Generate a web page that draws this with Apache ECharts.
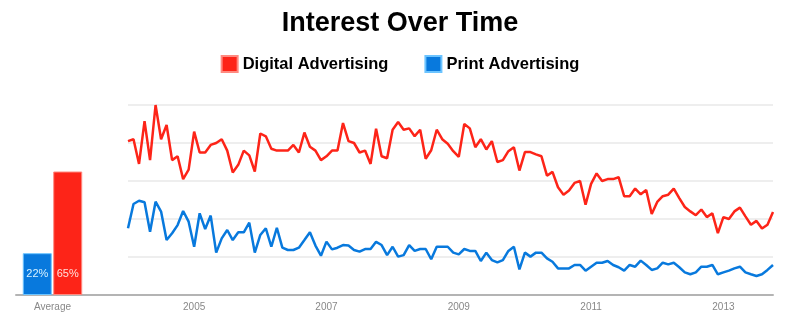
<!DOCTYPE html>
<html>
<head>
<meta charset="utf-8">
<script src="https://cdn.jsdelivr.net/npm/echarts@6/dist/echarts.min.js"></script>
<style>
html,body{margin:0;padding:0;background:#fff;}
#chart{width:800px;height:322px;}
</style>
</head>
<body>
<div id="chart"></div>
<script>
// Monthly categories Jan 2004 .. Oct 2013
const startYear = 2004;
const monthCount = 118;
const months = [];
for (let k = 0; k < monthCount; k++) {
  const y = startYear + Math.floor(k / 12);
  const m = (k % 12) + 1;
  months.push(y + '-' + (m < 10 ? '0' + m : '' + m));
}
const yearLabels = ['2005', '2007', '2009', '2011', '2013'];

const seriesNames = ['Digital Advertising', 'Print Advertising'];
const averageCategory = ['Average'];
const averageDigital = [65];
const averagePrint = [22];

const digital = [
  81, 82, 69, 91.5, 71, 100, 82, 89.5, 71, 73, 61, 66,
  86, 75, 75, 79, 80, 82, 76, 64.5, 68.5, 76, 73.5, 65,
  85, 83.5, 77, 76, 76, 76, 79, 75, 85.5, 78, 76, 71,
  73, 76, 76, 90.5, 81, 80, 75, 76, 69, 87.5, 73, 72,
  87, 91, 87, 87.7, 83.6, 87, 71.7, 76.2, 87, 82, 79.6, 75.7,
  72.7, 90, 87.7, 77.8, 82, 76.6, 81, 70, 71, 75.7, 77.8, 65.5,
  75.2, 75.2, 74, 73, 62.8, 64.8, 56.7, 52.8, 55, 59, 60, 47.5,
  58.5, 64, 60, 61, 61, 62, 52, 52, 56, 53, 55.3, 42.6,
  49, 52, 52.8, 56, 51, 46.3, 44, 42, 45, 41, 43, 32.6,
  41, 40, 44, 46, 41.4, 37, 39, 35, 37, 43.7
];

const print = [
  35.1, 47.9, 49.6, 48.8, 33.3, 49.1, 43.9, 28.9, 32.5, 36.8, 44.2, 38.6,
  25.4, 43, 34.7, 41.8, 22.3, 29.8, 34.2, 28.9, 33, 33, 38.1, 22.3,
  31.6, 35.1, 25.4, 35.4, 24.9, 23.7, 23.7, 24.9, 28.9, 33, 26, 20.7,
  28.1, 24, 24.9, 26.3, 26, 23.7, 22.8, 24.2, 24.2, 28, 26.3, 21,
  25.4, 20.2, 21, 26.3, 23.2, 24.2, 24.2, 18.8, 25.4, 25.4, 25.4, 22.3,
  21.4, 24.2, 23.2, 23.2, 17.9, 22.3, 18.4, 17.2, 18.4, 23.2, 25.4, 13.5,
  22.3, 20.2, 22.3, 22.3, 19.3, 17.5, 14, 14, 14, 15.8, 15.8, 12.8,
  14.9, 17, 17, 17.9, 15.8, 14.6, 12.8, 15.8, 14.9, 18.1, 15.8, 13.2,
  14, 17, 16.1, 17, 14.6, 11.9, 10.9, 11.9, 14.9, 14.9, 15.8, 10.9,
  11.9, 12.8, 14, 14.9, 11.9, 10.9, 10, 10.9, 13.2, 15.8
];

const RED = '#fd2418';
const BLUE = '#0879dd';
const FONT = 'Liberation Sans, Arial, sans-serif';

const chart = echarts.init(document.getElementById('chart'), null, {renderer: 'canvas'});

const option = {
  animation: false,
  backgroundColor: '#fff',
  title: {
    text: 'Interest Over Time',
    left: 'center',
    top: 5,
    textStyle: {fontFamily: FONT, fontSize: 27, fontWeight: 'bold', color: '#000'}
  },
  legend: {
    data: seriesNames,
    top: 50,
    left: 'center',
    icon: 'rect',
    itemWidth: 16,
    itemHeight: 16,
    itemGap: 36,
    textStyle: {fontFamily: FONT, fontSize: 16.5, fontWeight: 'bold', color: '#000'}
  },
  grid: [
    {left: 16, width: 73, top: 105, bottom: 27},
    {left: 128, right: 27, top: 105, bottom: 27},
    {left: 16, right: 27, top: 105, bottom: 27}
  ],
  xAxis: [
    {
      gridIndex: 0, type: 'category', data: averageCategory,
      axisLine: {show: false}, axisTick: {show: false},
      axisLabel: {color: '#888', fontSize: 10, fontFamily: FONT, margin: 7}
    },
    {
      gridIndex: 1, type: 'category', data: months, boundaryGap: false,
      axisLine: {show: false}, axisTick: {show: false},
      axisLabel: {
        color: '#888', fontSize: 10, fontFamily: FONT, margin: 7,
        interval: function (idx, val) {
          return yearLabels.indexOf(val.slice(0, 4)) >= 0 && val.slice(5) === '01';
        },
        formatter: function (val) { return val.slice(0, 4); }
      }
    },
    {
      gridIndex: 2, type: 'value', min: 0, max: 1,
      axisLine: {show: true, onZero: false, lineStyle: {color: '#b4b4b4', width: 2}},
      axisTick: {show: false}, axisLabel: {show: false}, splitLine: {show: false}
    }
  ],
  yAxis: [
    {
      gridIndex: 0, type: 'value', min: 0, max: 100, interval: 20,
      axisLine: {show: false}, axisTick: {show: false}, axisLabel: {show: false},
      splitLine: {show: false}
    },
    {
      gridIndex: 1, type: 'value', min: 0, max: 100, interval: 20,
      axisLine: {show: false}, axisTick: {show: false}, axisLabel: {show: false},
      splitLine: {show: true, lineStyle: {color: '#eeeeee', width: 2}}
    },
    {
      gridIndex: 2, type: 'value', min: 0, max: 1,
      axisLine: {show: false}, axisTick: {show: false}, axisLabel: {show: false},
      splitLine: {show: false}
    }
  ],
  series: [
    {
      name: seriesNames[1], type: 'bar', xAxisIndex: 0, yAxisIndex: 0,
      data: averagePrint, barWidth: 29, barGap: '5%',
      itemStyle: {color: BLUE, borderColor: '#6cc4ff', borderWidth: 1},
      label: {show: true, position: 'insideBottom', distance: 16, formatter: '{c}%',
        color: '#d8f2ff', fontSize: 11, fontFamily: FONT}
    },
    {
      name: seriesNames[0], type: 'bar', xAxisIndex: 0, yAxisIndex: 0,
      data: averageDigital, barWidth: 29, barGap: '5%',
      itemStyle: {color: RED, borderColor: '#ff8a80', borderWidth: 1},
      label: {show: true, position: 'insideBottom', distance: 16, formatter: '{c}%',
        color: '#ffe0dc', fontSize: 11, fontFamily: FONT}
    },
    {
      name: seriesNames[0], type: 'line', xAxisIndex: 1, yAxisIndex: 1,
      data: digital, showSymbol: false, symbol: 'none',
      lineStyle: {color: RED, width: 2.5}, itemStyle: {color: RED}
    },
    {
      name: seriesNames[1], type: 'line', xAxisIndex: 1, yAxisIndex: 1,
      data: print, showSymbol: false, symbol: 'none',
      lineStyle: {color: BLUE, width: 2.5}, itemStyle: {color: BLUE}
    }
  ]
};
chart.setOption(option);
</script>
</body>
</html>
